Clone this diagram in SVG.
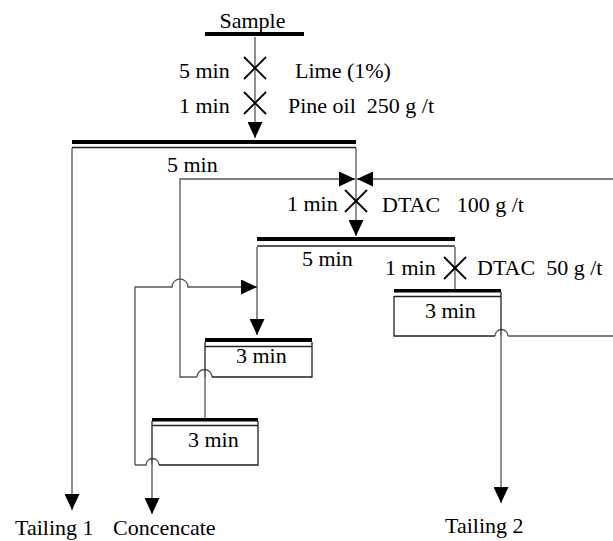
<svg xmlns="http://www.w3.org/2000/svg" width="613" height="541" viewBox="0 0 613 541" font-family="Liberation Serif, Times New Roman, serif">
<style>
text{font-size:22px;fill:#000}
.c{fill:none;stroke:#555;stroke-width:1.3}
.b{fill:none;stroke:#222;stroke-width:1.3}
.bar{fill:#000}
.x{stroke:#000;stroke-width:1.8}
</style>
<defs>
<marker id="a" viewBox="0 0 16 15" refX="16" refY="7.5" markerWidth="16" markerHeight="15" markerUnits="userSpaceOnUse" orient="auto">
<path d="M0,0 L16,7.5 L0,15 Z" fill="#000"/>
</marker>
</defs>
<g id="connectors">
<path class="c" d="M255,37 V138" marker-end="url(#a)"/>
<path class="c" d="M72,148 V510" marker-end="url(#a)"/>
<path class="c" d="M356,148 V236" marker-end="url(#a)"/>
<path class="c" d="M197,377 H180 V179 H355" marker-end="url(#a)"/>
<path class="c" d="M508,336 H614 V179 H357" marker-end="url(#a)"/>
<path class="c" d="M455,247 V289"/>
<path class="c" d="M501,336 V503" marker-end="url(#a)"/>
<path class="c" d="M257,247 V335" marker-end="url(#a)"/>
<path class="c" d="M135,465 V287 H172 A8,8 0 0 1 188,287 H257" marker-end="url(#a)"/>
<path class="c" d="M205,377 V418"/>
<path class="c" d="M135,465 H146 A6.5,6.5 0 0 1 159,465"/>
<path class="c" d="M152,465 V514" marker-end="url(#a)"/>
<path class="c" d="M197,377 A7.5,7.5 0 0 1 212,377"/>
<path class="c" d="M495,336 A6.5,6.5 0 0 1 508,336"/>
</g>
<g id="sample">
<rect class="bar" x="205" y="32" width="99" height="4"/>
<text x="252.5" y="28" text-anchor="middle">Sample</text>
</g>
<g id="reagent1">
<line class="x" x1="244" y1="57" x2="266" y2="79"/>
<line class="x" x1="266" y1="57" x2="244" y2="79"/>
<text x="179" y="78">5 min</text>
<text x="295" y="78">Lime (1%)</text>
</g>
<g id="reagent2">
<line class="x" x1="244" y1="92" x2="266" y2="114"/>
<line class="x" x1="266" y1="92" x2="244" y2="114"/>
<text x="179" y="113">1 min</text>
<text x="288" y="113" xml:space="preserve">Pine oil  250 g /t</text>
</g>
<g id="rougher">
<rect class="bar" x="72" y="140" width="284" height="4"/>
<line class="b" x1="72" y1="147.5" x2="356" y2="147.5"/>
<text x="167" y="172">5 min</text>
</g>
<g id="reagent3">
<line class="x" x1="345" y1="190" x2="367" y2="212"/>
<line class="x" x1="367" y1="190" x2="345" y2="212"/>
<text x="287" y="211">1 min</text>
<text x="382" y="212" xml:space="preserve">DTAC   100 g /t</text>
</g>
<g id="cleaner1">
<rect class="bar" x="257" y="237" width="198" height="4"/>
<line class="b" x1="257" y1="246" x2="455" y2="246"/>
<text x="302" y="266">5 min</text>
</g>
<g id="reagent4">
<line class="x" x1="444" y1="257" x2="466" y2="279"/>
<line class="x" x1="466" y1="257" x2="444" y2="279"/>
<text x="385" y="275">1 min</text>
<text x="477" y="275" xml:space="preserve">DTAC  50 g /t</text>
</g>
<g id="scavenger">
<rect class="bar" x="394" y="289" width="107" height="3.5"/>
<path class="b" d="M394,296.5 H501 M394,296 V336 H495 M501,292 V336"/>
<text x="425" y="318">3 min</text>
</g>
<g id="cleaner2">
<rect class="bar" x="205" y="338" width="107" height="4"/>
<path class="b" d="M205,346.5 H312 M205,342 V377 M312,342 V377 H212"/>
<text x="236" y="363">3 min</text>
</g>
<g id="cleaner3">
<rect class="bar" x="152" y="418" width="106" height="3.5"/>
<path class="b" d="M152,425.5 H258 M152,421 V465 M258,421 V465 H159"/>
<text x="188" y="447">3 min</text>
</g>
<g id="products">
<text x="15" y="535">Tailing 1</text>
<text x="113" y="535">Concencate</text>
<text x="445" y="533">Tailing 2</text>
</g>
</svg>
